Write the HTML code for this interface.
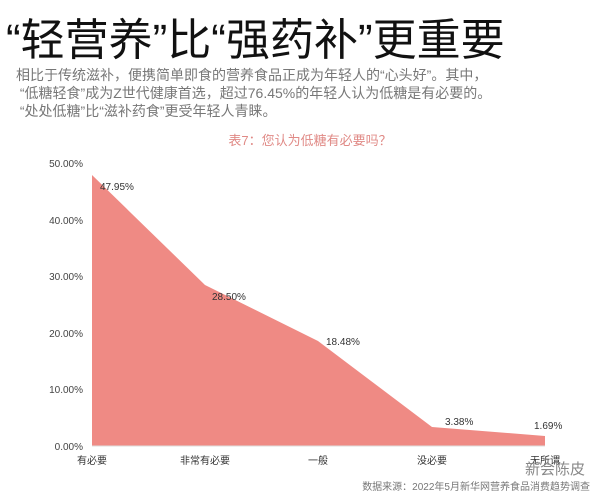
<!DOCTYPE html>
<html><head><meta charset="utf-8"><style>
body{margin:0;width:600px;height:499px;background:#fff;overflow:hidden;font-family:"Liberation Sans","Noto Sans CJK SC",sans-serif;position:relative}
.t{position:absolute;left:6px;top:4px;font-size:44px;color:#111;letter-spacing:0px;white-space:nowrap}
.p{position:absolute;left:16px;top:66px;font-size:14px;line-height:18px;color:#777;white-space:nowrap}
.c{position:absolute;left:0;top:0}
</style></head><body>
<div class="t">“轻营养”比“强药补”更重要</div>
<div class="p">相比于传统滋补，便携简单即食的营养食品正成为年轻人的“心头好”。其中，<br>&nbsp;“低糖轻食”成为Z世代健康首选，超过76.45%的年轻人认为低糖是有必要的。<br>&nbsp;“处处低糖”比“滋补药食”更受年轻人青睐。</div>
<svg class="c" width="600" height="499" font-family="Liberation Sans, Noto Sans CJK SC, sans-serif">
<text x="310" y="145" font-size="13" fill="#e08a86" text-anchor="middle">表7：您认为低糖有必要吗？</text>
<g font-size="10" fill="#444" text-anchor="end">
<text x="83" y="167">50.00%</text><text x="83" y="224">40.00%</text><text x="83" y="280">30.00%</text>
<text x="83" y="337">20.00%</text><text x="83" y="393">10.00%</text><text x="83" y="450">0.00%</text>
</g>
<polygon points="92,446 92,175 205,285 318,341 432,427 545,436 545,446" fill="#ef8a84"/>
<line x1="92" y1="446" x2="545" y2="446" stroke="#ddd"/>
<g font-size="10" fill="#333">
<text x="100" y="190">47.95%</text><text x="212" y="300">28.50%</text><text x="326" y="345">18.48%</text>
<text x="445" y="425">3.38%</text><text x="534" y="429">1.69%</text>
</g>
<g font-size="10" fill="#333" text-anchor="middle">
<text x="92" y="464">有必要</text><text x="205" y="464">非常有必要</text><text x="318" y="464">一般</text>
<text x="432" y="464">没必要</text><text x="545" y="464">无所谓</text>
</g>
<text x="590" y="490" font-size="10" fill="#777" text-anchor="end">数据来源：2022年5月新华网营养食品消费趋势调查</text>
<text x="585" y="474" font-size="15" fill="#888" text-anchor="end">新会陈皮</text>
</svg>
</body></html>
